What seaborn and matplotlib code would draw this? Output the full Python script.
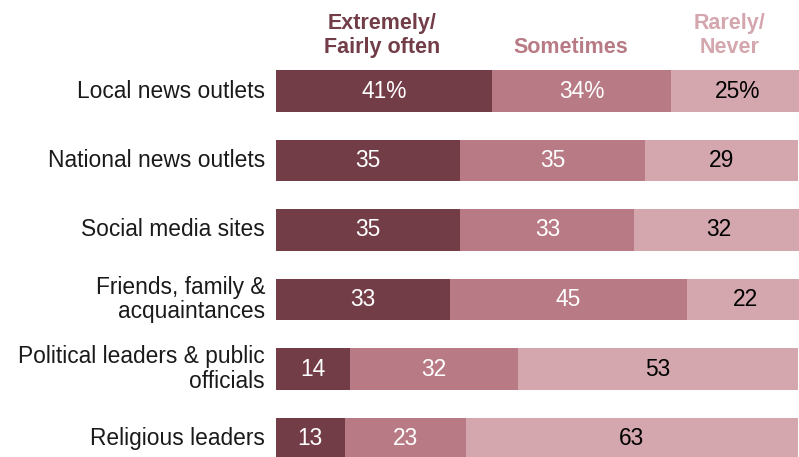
import matplotlib
matplotlib.use("Agg")
import matplotlib.pyplot as plt
import seaborn as sns
import pandas as pd
import numpy as np

categories = ["Local news outlets", "National news outlets", "Social media sites",
              "Friends, family &\nacquaintances", "Political leaders & public\nofficials",
              "Religious leaders"]
often = [41, 35, 35, 33, 14, 13]
sometimes = [34, 35, 33, 45, 32, 23]
rarely = [25, 29, 32, 22, 53, 63]
series_names = ["Extremely/\nFairly often", "Sometimes", "Rarely/\nNever"]
colors = ["#733d48", "#b87a84", "#d4a6ad"]

sns.set_style("white")
plt.rcParams['font.family'] = ['Liberation Sans', 'DejaVu Sans']

W, H = 799, 457
fig = plt.figure(figsize=(W/100, H/100), dpi=100)
x0 = 276
ax = fig.add_axes([x0/W, 0, 1 - x0/W, 1])

df = pd.DataFrame({"cat": categories, "often": often, "sometimes": sometimes, "rarely": rarely})
df["c2"] = df["often"] + df["sometimes"]
df["c3"] = df["c2"] + df["rarely"]

pos_order = categories
bh = 0.59
sns.barplot(data=df, y="cat", x="c3", order=pos_order, color=colors[2], saturation=1,
            width=bh, orient="h", ax=ax, linewidth=0)
sns.barplot(data=df, y="cat", x="c2", order=pos_order, color=colors[1], saturation=1,
            width=bh, orient="h", ax=ax, linewidth=0)
sns.barplot(data=df, y="cat", x="often", order=pos_order, color=colors[0], saturation=1,
            width=bh, orient="h", ax=ax, linewidth=0)

scale = 5.27
ax.set_xlim(0, (W - x0) / scale)
ax.set_ylim((H - 91) / 69.5, -91 / 69.5)
ax.axis("off")

fs = 16.4
for i, row in df.iterrows():
    a, b, c = row["often"], row["sometimes"], row["rarely"]
    suf = "%" if i == 0 else ""
    ax.text(a / 2, i, f"{a}{suf}", ha="center", va="center", color="white", fontsize=fs)
    ax.text(a + b / 2, i, f"{b}{suf}", ha="center", va="center", color="white", fontsize=fs)
    ax.text(a + b + c / 2, i, f"{c}{suf}", ha="center", va="center", color="black", fontsize=fs)
    ax.text(-11 / scale, i, row["cat"], ha="right", va="center", color="#1a1a1a",
            fontsize=fs, linespacing=1.1)

hx = [20.2, 56.0, 86.0]
hy = [-0.80, -0.63, -0.80]
for name, c, x, y in zip(series_names, colors, hx, hy):
    ax.text(x, y, name, ha="center", va="center", color=c, fontsize=15.5,
            fontweight="bold", linespacing=1.15)

fig.savefig("out.png", dpi=100)
